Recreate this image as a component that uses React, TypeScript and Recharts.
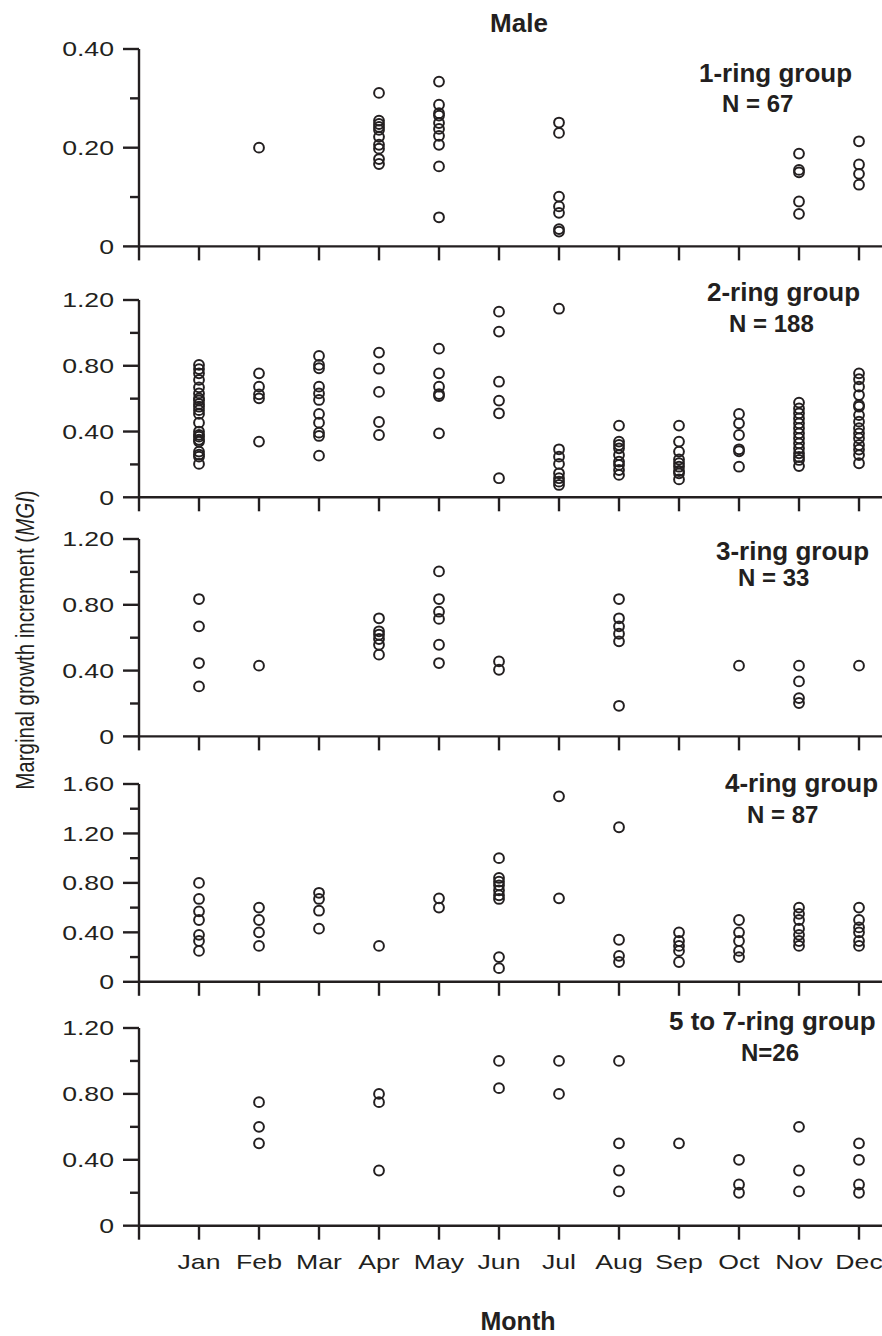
import React from 'react';
import { ScatterChart, Scatter, XAxis, YAxis } from 'recharts';

// ---------- data ----------
const MONTH_LABELS = ['', 'Jan', 'Feb', 'Mar', 'Apr', 'May', 'Jun', 'Jul', 'Aug', 'Sep', 'Oct', 'Nov', 'Dec'];
const MONTH_TICKS = [0, 1, 2, 3, 4, 5, 6, 7, 8, 9, 10, 11, 12];

// values per month, Jan..Dec
const ring1ByMonth: number[][] = [
  [],
  [0.2],
  [],
  [0.311, 0.255, 0.248, 0.242, 0.236, 0.222, 0.206, 0.198, 0.177, 0.167],
  [0.334, 0.287, 0.27, 0.265, 0.25, 0.238, 0.224, 0.206, 0.162, 0.059],
  [],
  [0.251, 0.23, 0.101, 0.081, 0.068, 0.035, 0.03],
  [],
  [],
  [],
  [0.188, 0.155, 0.15, 0.091, 0.066],
  [0.213, 0.166, 0.147, 0.125],
];

const ring2ByMonth: number[][] = [
  [0.805, 0.78, 0.754, 0.714, 0.669, 0.632, 0.602, 0.59, 0.568, 0.551, 0.53, 0.507, 0.454, 0.4, 0.38, 0.369, 0.35, 0.339, 0.278, 0.26, 0.247, 0.203],
  [0.754, 0.673, 0.626, 0.602, 0.339],
  [0.86, 0.805, 0.785, 0.673, 0.632, 0.592, 0.507, 0.454, 0.393, 0.373, 0.253],
  [0.88, 0.782, 0.641, 0.458, 0.379],
  [0.904, 0.754, 0.673, 0.628, 0.616, 0.389],
  [1.129, 1.008, 0.703, 0.588, 0.511, 0.116],
  [1.147, 0.292, 0.247, 0.203, 0.146, 0.116, 0.095, 0.075],
  [0.436, 0.339, 0.318, 0.298, 0.257, 0.217, 0.197, 0.166, 0.136],
  [0.436, 0.339, 0.278, 0.23, 0.207, 0.186, 0.16, 0.146, 0.109],
  [0.507, 0.45, 0.379, 0.292, 0.28, 0.186],
  [0.576, 0.54, 0.511, 0.48, 0.45, 0.42, 0.389, 0.359, 0.328, 0.298, 0.268, 0.245, 0.227, 0.19],
  [0.754, 0.718, 0.673, 0.622, 0.562, 0.551, 0.5, 0.46, 0.42, 0.389, 0.359, 0.318, 0.29, 0.257, 0.207],
];

const ring3ByMonth: number[][] = [
  [0.835, 0.669, 0.446, 0.304],
  [0.43],
  [],
  [0.718, 0.639, 0.618, 0.592, 0.557, 0.497],
  [1.003, 0.835, 0.758, 0.714, 0.557, 0.446],
  [0.456, 0.405],
  [],
  [0.835, 0.718, 0.669, 0.624, 0.578, 0.186],
  [],
  [0.43],
  [0.43, 0.334, 0.233, 0.203],
  [0.43],
];

const ring4ByMonth: number[][] = [
  [0.8, 0.67, 0.57, 0.5, 0.38, 0.33, 0.25],
  [0.6, 0.5, 0.4, 0.29],
  [0.72, 0.67, 0.575, 0.43],
  [0.29],
  [0.675, 0.6],
  [1.0, 0.84, 0.81, 0.78, 0.74, 0.7, 0.67, 0.2, 0.11],
  [1.5, 0.675],
  [1.25, 0.34, 0.21, 0.16],
  [0.4, 0.33, 0.29, 0.25, 0.16],
  [0.5, 0.4, 0.33, 0.25, 0.2],
  [0.6, 0.55, 0.5, 0.43, 0.38, 0.33, 0.29],
  [0.6, 0.5, 0.44, 0.4, 0.33, 0.29],
];

const ring5to7ByMonth: number[][] = [
  [],
  [0.75, 0.6, 0.5],
  [],
  [0.8, 0.75, 0.335],
  [],
  [1.0, 0.835],
  [1.0, 0.8],
  [1.0, 0.5, 0.335, 0.208],
  [0.5],
  [0.4, 0.25, 0.2],
  [0.6, 0.335, 0.208],
  [0.5, 0.4, 0.25, 0.2],
];

const GROUP_TITLES = ['1-ring group', '2-ring group', '3-ring group', '4-ring group', '5 to 7-ring group'];
const GROUP_N = ['N = 67', 'N = 188', 'N = 33', 'N = 87', 'N=26'];
const Y_MAX = [0.4, 1.2, 1.2, 1.6, 1.2];
const Y_MAJOR = [
  [0, 0.2, 0.4],
  [0, 0.4, 0.8, 1.2],
  [0, 0.4, 0.8, 1.2],
  [0, 0.4, 0.8, 1.2, 1.6],
  [0, 0.4, 0.8, 1.2],
];
const Y_MINOR = [
  [0.1, 0.3],
  [0.2, 0.6, 1.0],
  [0.2, 0.6, 1.0],
  [0.2, 0.6, 1.0, 1.4],
  [0.2, 0.6, 1.0],
];
const PANEL_DATA = [ring1ByMonth, ring2ByMonth, ring3ByMonth, ring4ByMonth, ring5to7ByMonth];

// ---------- layout / style ----------
const W = 882;
const H = 1336;
const X_MAX = 12.383;
const AXIS_X = 139;
const PANEL_TOP = [49.3, 300, 539.3, 784, 1028.3];
const PANEL_BOTTOM = [246.7, 497.3, 736.7, 981.8, 1226];
const TITLE_POS = [
  { x: 699, y: 81.7, nx: 722, ny: 111.7 },
  { x: 707, y: 300.7, nx: 729, ny: 331.7 },
  { x: 716, y: 560, nx: 738, ny: 586 },
  { x: 725, y: 791.7, nx: 747, ny: 823.3 },
  { x: 669, y: 1030, nx: 741, ny: 1060.7 },
];
const INK = '#231f20';
const FONT = '"Liberation Sans", Arial, Helvetica, sans-serif';
const MT = 25;

const fmt = (v: number) => (v === 0 ? '0' : v.toFixed(2));

const makeYTick = (majors: number[]) => (props: any) => {
  const { x, y, payload } = props;
  const v = payload.value as number;
  const isMajor = majors.some((m) => Math.abs(m - v) < 1e-9);
  const len = isMajor ? 16 : 9;
  return (
    <g>
      <line x1={x - len} y1={y} x2={x} y2={y} stroke={INK} strokeWidth={2.4} />
      {isMajor && (
        <text
          transform={`translate(${x - 25} ${y}) scale(1.3 1)`}
          textAnchor="end"
          dy="0.355em"
          fontSize={20.5}
          fontFamily={FONT}
          fill={INK}
        >
          {fmt(v)}
        </text>
      )}
    </g>
  );
};

const makeXTick = (showLabels: boolean) => (props: any) => {
  const { x, y, payload } = props;
  const v = payload.value as number;
  return (
    <g>
      <line x1={x} y1={y} x2={x} y2={y + 14} stroke={INK} strokeWidth={2.4} />
      {showLabels && v > 0 && (
        <text
          transform={`translate(${x} ${y + 43}) scale(1.3 1)`}
          textAnchor="middle"
          fontSize={20.5}
          fontFamily={FONT}
          fill={INK}
        >
          {MONTH_LABELS[v]}
        </text>
      )}
    </g>
  );
};

const Ring = (p: any) => (
  <circle cx={p.cx} cy={p.cy} r={4.9} fill="none" stroke={INK} strokeWidth={2} />
);

function Panel({ idx }: { idx: number }) {
  const isLast = idx === 4;
  const top = PANEL_TOP[idx];
  const h = PANEL_BOTTOM[idx] - top;
  const xh = isLast ? 60 : 22;
  const height = MT + h + xh;
  const pts: { m: number; v: number }[] = [];
  PANEL_DATA[idx].forEach((vals, i) => vals.forEach((v) => pts.push({ m: i + 1, v })));
  const yTicks = [...Y_MAJOR[idx], ...Y_MINOR[idx]].sort((a, b) => a - b);
  return (
    <div style={{ position: 'absolute', left: 0, top: top - MT, width: W, height }}>
      <ScatterChart width={W} height={height} margin={{ top: MT, right: 0, bottom: 0, left: 0 }}>
        <XAxis
          type="number"
          dataKey="m"
          domain={[0, X_MAX]}
          ticks={MONTH_TICKS}
          interval={0}
          tickSize={0}
          tickMargin={0}
          tickLine={false}
          height={xh}
          axisLine={{ stroke: INK, strokeWidth: 2.4 }}
          tick={makeXTick(isLast)}
          allowDataOverflow
        />
        <YAxis
          type="number"
          dataKey="v"
          domain={[0, Y_MAX[idx]]}
          ticks={yTicks}
          interval={0}
          width={AXIS_X}
          tickSize={0}
          tickMargin={0}
          tickLine={false}
          axisLine={{ stroke: INK, strokeWidth: 2.4 }}
          tick={makeYTick(Y_MAJOR[idx])}
          allowDataOverflow
        />
        <Scatter data={pts} isAnimationActive={false} shape={Ring} />
      </ScatterChart>
    </div>
  );
}

export default function App() {
  return (
    <div style={{ position: 'absolute', left: 0, top: 0, width: W, height: H, background: '#fff' }}>
      {[0, 1, 2, 3, 4].map((i) => (
        <Panel key={i} idx={i} />
      ))}
      <svg
        width={W}
        height={H}
        style={{ position: 'absolute', left: 0, top: 0, pointerEvents: 'none' }}
      >
        <text x={519} y={32} textAnchor="middle" fontSize={26} fontWeight="bold" fontFamily={FONT} fill={INK}>
          Male
        </text>
        {GROUP_TITLES.map((t, i) => (
          <g key={t}>
            <text x={TITLE_POS[i].x} y={TITLE_POS[i].y} fontSize={26} fontWeight="bold" fontFamily={FONT} fill={INK}>
              {t}
            </text>
            <text x={TITLE_POS[i].nx} y={TITLE_POS[i].ny} fontSize={24} fontWeight="bold" fontFamily={FONT} fill={INK}>
              {GROUP_N[i]}
            </text>
          </g>
        ))}
        <text
          transform="translate(25 640) rotate(-90) scale(1 1.25)"
          textAnchor="middle"
          dy="0.35em"
          fontSize={20.5}
          fontFamily={FONT}
          fill={INK}
        >
          Marginal growth increment (<tspan fontStyle="italic">MGI</tspan>)
        </text>
        <text x={518} y={1330} textAnchor="middle" fontSize={25} fontWeight="bold" fontFamily={FONT} fill={INK}>
          Month
        </text>
      </svg>
    </div>
  );
}
